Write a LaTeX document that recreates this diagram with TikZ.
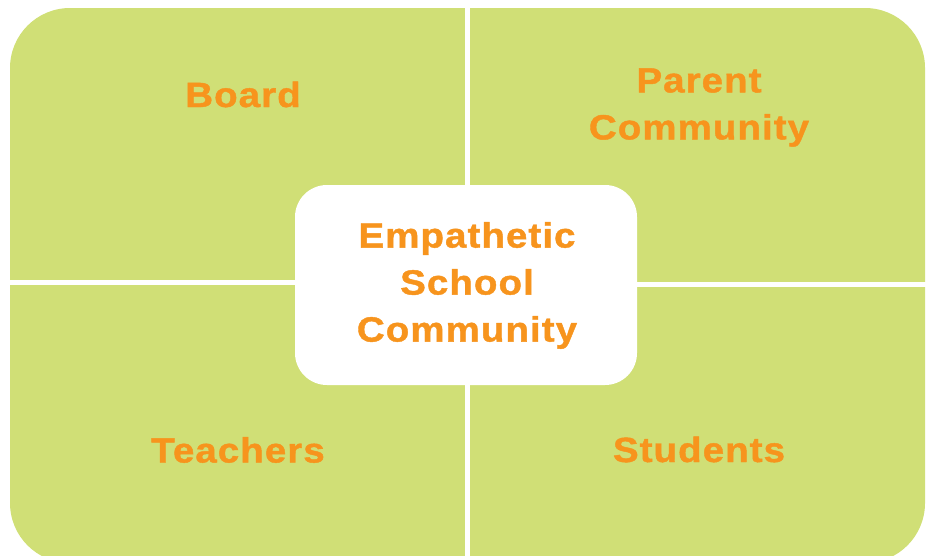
\documentclass[tikz,border=0pt]{standalone}
\usepackage{fontspec}
\newfontfamily\labfont{Liberation Sans Bold}[FakeStretch=1.1, LetterSpace=3, FakeBold=1.2]
\definecolor{quadgreen}{RGB}{208,223,118}
\definecolor{laborange}{RGB}{247,148,29}
\begin{document}
\begin{tikzpicture}[x=1pt,y=-1pt,
  quad/.style={fill=quadgreen},
  gap/.style={fill=white},
  centerbox/.style={fill=white, rounded corners=32pt},
  lab/.style={text=laborange, inner sep=0pt, align=center,
    font=\labfont\fontsize{35}{47}\selectfont}]
\useasboundingbox (0,0) rectangle (933,555);
\clip (0,0) rectangle (933,555);
% green field with outer rounded corners
\fill[quad, rounded corners=60pt] (10,8) rectangle (925,563);
% white separating gaps
\fill[gap] (465,0) rectangle (470,560);
\fill[gap] (0,280) rectangle (465,285);
\fill[gap] (470,282) rectangle (933,287);
% centre box
\fill[centerbox] (295,185) rectangle (637,385);
% labels
\node[lab, anchor=base] (board) at (243,107) {Board};
\node[lab] (parent) at (699,107.5) {Parent\\Community};
\node[lab, anchor=base] (teachers) at (238,462.5) {Teachers};
\node[lab, anchor=base] (students) at (699,462) {Students};
\node[lab] (center) at (467,285.5) {Empathetic\\School\\Community};
\end{tikzpicture}
\end{document}
